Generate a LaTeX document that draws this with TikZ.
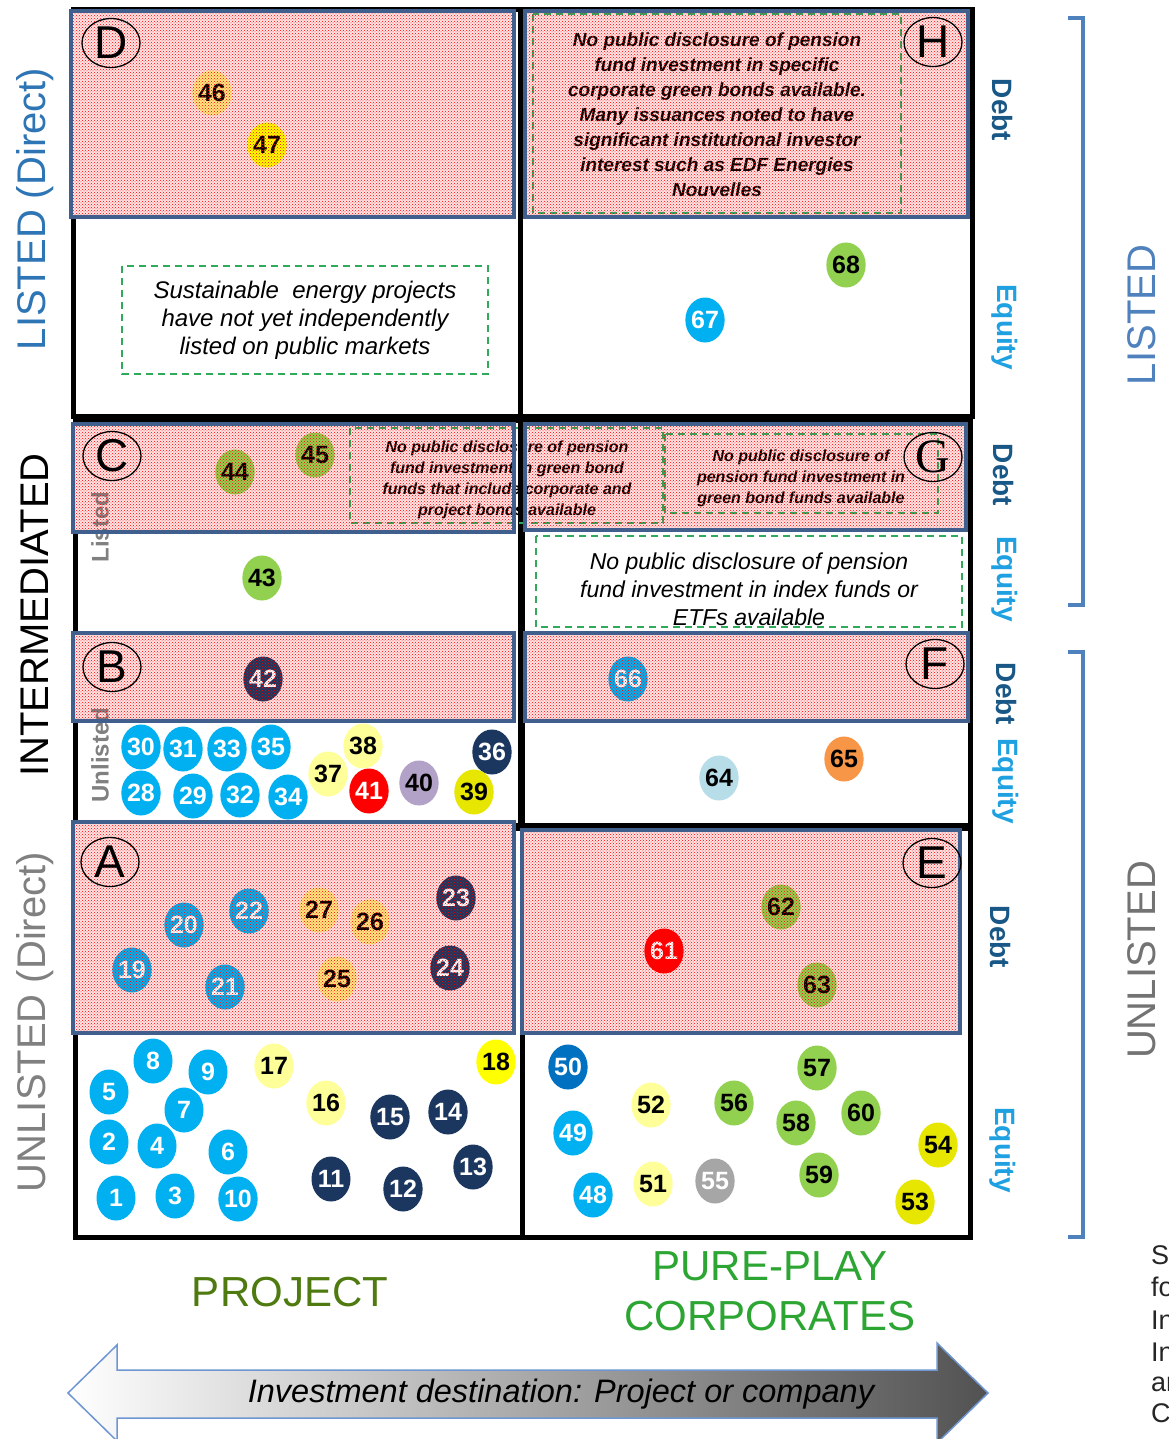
\documentclass[tikz,border=0pt]{standalone}
\usepackage{fontspec}
\setmainfont{Liberation Sans}
\newfontfamily\tagserif{Liberation Serif}
\usetikzlibrary{shapes.geometric,patterns}

\definecolor{cyanb}{RGB}{0,176,240}
\definecolor{navyb}{RGB}{28,55,95}
\definecolor{paley}{RGB}{255,255,153}
\definecolor{fadey}{RGB}{255,232,130}
\definecolor{yelb}{RGB}{255,255,0}
\definecolor{darky}{RGB}{230,230,0}
\definecolor{greenb}{RGB}{146,208,80}
\definecolor{redb}{RGB}{255,0,0}
\definecolor{purpb}{RGB}{179,162,199}
\definecolor{ltblueb}{RGB}{183,221,232}
\definecolor{orangeb}{RGB}{247,150,70}
\definecolor{greyb}{RGB}{166,166,166}
\definecolor{blueb}{RGB}{0,112,192}
\definecolor{frameblue}{RGB}{65,95,140}
\definecolor{debtpink}{RGB}{255,228,228}
\definecolor{notegreen}{RGB}{46,170,90}
\definecolor{listblue}{RGB}{46,117,182}
\definecolor{debtlbl}{RGB}{25,88,134}
\definecolor{eqlbl}{RGB}{30,160,225}
\definecolor{brackblue}{RGB}{79,129,189}
\definecolor{projgreen}{RGB}{78,122,16}
\definecolor{corpgreen}{RGB}{44,165,50}
\definecolor{arrowedge}{RGB}{110,150,210}

\newcommand\bub[5]{\node[bubble,fill=#4,text=#5] (n#3) at (#1,#2) {#3};}

\begin{document}
\begin{tikzpicture}[x=1pt,y=-1pt,
  cell/.style={draw=black,line width=5pt,fill=white},
  debtarea/.style={draw=frameblue,line width=4pt},
  dots/.style={pattern=crosshatch dots,pattern color=red},
  bubble/.style={ellipse,minimum width=39pt,minimum height=45pt,inner sep=0pt,
    font=\fontsize{25}{25}\selectfont\bfseries},
  tag/.style={ellipse,draw=black,line width=1.3pt,minimum width=58pt,minimum height=49pt,
    inner sep=0pt,font=\fontsize{46}{46}\selectfont},
  note/.style={draw=notegreen,line width=1.8pt,dash pattern=on 7pt off 5pt},
  debttext/.style={align=center,font=\fontsize{16}{21}\selectfont\bfseries\itshape},
  sidelbl/.style={rotate=90,font=\fontsize{40}{40}\selectfont},
  sublbl/.style={rotate=90,text=black!50,font=\fontsize{24}{24}\selectfont\bfseries},
  debtlabel/.style={rotate=-90,text=debtlbl,font=\fontsize{28}{28}\selectfont\bfseries},
  eqlabel/.style={rotate=-90,text=eqlbl,font=\fontsize{28}{28}\selectfont\bfseries},
  brack/.style={draw=brackblue,line width=4.5pt},
  headline/.style={font=\fontsize{42}{50}\selectfont,align=center}]

\useasboundingbox[fill=white] (0,0) rectangle (1168,1439);

% outer cells of the matrix
\draw[cell] (73,10) rectangle (520,416);
\draw[cell] (520,10) rectangle (972,416);
\draw[cell] (75,420) rectangle (520,825);
\draw[cell] (522,420) rectangle (970,825);
\draw[cell] (75,828) rectangle (522,1237);
\draw[cell] (522,828) rectangle (970,1237);

% debt bands: base tint
\fill[debtpink] (71,11) rectangle (514,217);
\fill[debtpink] (525,11) rectangle (968,217);
\fill[debtpink] (73,424) rectangle (514,532);
\fill[debtpink] (525,424) rectangle (966,530);
\fill[debtpink] (73,633) rectangle (514,721);
\fill[debtpink] (525,633) rectangle (968,721);
\fill[debtpink] (73,822) rectangle (514,1033);
\fill[debtpink] (522,830) rectangle (960,1033);

% small row labels inside the intermediated band
\node[sublbl] (lbllisted) at (100,527) {Listed};
\node[sublbl] (lblunlisted) at (100,755) {Unlisted};

% notes lying in the debt bands
\draw[note] (533,14) rectangle (901,213);
\node[align=center,font=\fontsize{19}{25}\selectfont\bfseries\itshape] (tH) at (717,115)
  {No public disclosure of pension\\fund investment in specific\\corporate green bonds available.\\Many issuances noted to have\\significant institutional investor\\interest such as EDF Energies\\Nouvelles};
\draw[note] (350,428) rectangle (663,523);
\node[debttext] (tC) at (507,480)
  {No public disclosure of pension\\fund investment in green bond\\funds that include corporate and\\project bonds available};
\draw[note] (665,434) rectangle (938,513);
\node[debttext] (tG) at (801,478)
  {No public disclosure of\\pension fund investment in\\green bond funds available};

% debt positions
\bub{212}{93}{46}{fadey}{black}
\bub{267}{145}{47}{yelb}{black}
\bub{235}{472}{44}{greenb}{black}
\bub{315}{455}{45}{greenb}{black}
\bub{263}{679}{42}{navyb}{white}
\bub{628}{679}{66}{cyanb}{white}
\bub{456}{898}{23}{navyb}{white}
\bub{184}{925}{20}{cyanb}{white}
\bub{249}{911}{22}{cyanb}{white}
\bub{319}{910}{27}{fadey}{black}
\bub{370}{922}{26}{fadey}{black}
\bub{132}{970}{19}{cyanb}{white}
\bub{225}{987}{21}{cyanb}{white}
\bub{337}{979}{25}{fadey}{black}
\bub{450}{968}{24}{navyb}{white}
\bub{781}{907}{62}{greenb}{black}
\bub{664}{951}{61}{redb}{white}
\bub{817}{985}{63}{greenb}{black}

% dotted screen over the debt bands
\fill[dots] (71,11) rectangle (514,217);
\fill[dots] (525,11) rectangle (968,217);
\fill[dots] (73,424) rectangle (514,532);
\fill[dots] (525,424) rectangle (966,530);
\fill[dots] (73,633) rectangle (514,721);
\fill[dots] (525,633) rectangle (968,721);
\fill[dots] (73,822) rectangle (514,1033);
\fill[dots] (522,830) rectangle (960,1033);

% debt band frames
\draw[debtarea] (71,11) rectangle (514,217);
\draw[debtarea] (525,11) rectangle (968,217);
\draw[debtarea] (73,424) rectangle (514,532);
\draw[debtarea] (525,424) rectangle (966,530);
\draw[debtarea] (73,633) rectangle (514,721);
\draw[debtarea] (525,633) rectangle (968,721);
\draw[debtarea] (73,822) rectangle (514,1033);
\draw[debtarea] (522,830) rectangle (960,1033);

% quadrant tags
\node[tag] (tagD) at (111,43) {D};
\node[tag] (tagH) at (933,42) {H};
\node[tag] (tagC) at (112,456) {C};
\node[tag,font=\fontsize{48}{48}\selectfont\tagserif] (tagG) at (933,457) {G};
\node[tag] (tagB) at (112,667) {B};
\node[tag] (tagF) at (935,664) {F};
\node[tag] (tagA) at (110,862) {A};
\node[tag] (tagE) at (932,863) {E};

% equity notes
\draw[note] (122,266) rectangle (488,374);
\node[align=center,font=\fontsize{24}{28}\selectfont\itshape] (tD) at (305,320)
  {Sustainable\ \ energy projects\\have not yet independently\\listed on public markets};
\draw[note] (536,536) rectangle (962,627);
\node[align=center,font=\fontsize{23}{28}\selectfont\itshape] (tGe) at (749,589)
  {No public disclosure of pension\\fund investment in index funds or\\ETFs available};

% equity positions
\bub{705}{320}{67}{cyanb}{white}
\bub{846}{265}{68}{greenb}{black}
\bub{262}{578}{43}{greenb}{black}
\bub{141}{747}{30}{cyanb}{white}
\bub{183}{749}{31}{cyanb}{white}
\bub{227}{749}{33}{cyanb}{white}
\bub{271}{747}{35}{cyanb}{white}
\bub{141}{793}{28}{cyanb}{white}
\bub{193}{796}{29}{cyanb}{white}
\bub{240}{795}{32}{cyanb}{white}
\bub{288}{797}{34}{cyanb}{white}
\bub{328}{774}{37}{paley}{black}
\bub{363}{746}{38}{paley}{black}
\bub{369}{791}{41}{redb}{white}
\bub{419}{783}{40}{purpb}{black}
\bub{492}{752}{36}{navyb}{white}
\bub{474}{792}{39}{darky}{black}
\bub{719}{778}{64}{ltblueb}{black}
\bub{844}{759}{65}{orangeb}{black}

\bub{153}{1061}{8}{cyanb}{white}
\bub{208}{1072}{9}{cyanb}{white}
\bub{274}{1066}{17}{paley}{black}
\bub{496}{1062}{18}{yelb}{black}
\bub{109}{1092}{5}{cyanb}{white}
\bub{184}{1110}{7}{cyanb}{white}
\bub{326}{1103}{16}{paley}{black}
\bub{390}{1117}{15}{navyb}{white}
\bub{448}{1112}{14}{navyb}{white}
\bub{109}{1142}{2}{cyanb}{white}
\bub{157}{1146}{4}{cyanb}{white}
\bub{228}{1152}{6}{cyanb}{white}
\bub{473}{1167}{13}{navyb}{white}
\bub{331}{1179}{11}{navyb}{white}
\bub{403}{1189}{12}{navyb}{white}
\bub{116}{1198}{1}{cyanb}{white}
\bub{175}{1196}{3}{cyanb}{white}
\bub{238}{1199}{10}{cyanb}{white}

\bub{568}{1067}{50}{blueb}{white}
\bub{817}{1068}{57}{greenb}{black}
\bub{651}{1105}{52}{paley}{black}
\bub{734}{1103}{56}{greenb}{black}
\bub{796}{1123}{58}{greenb}{black}
\bub{861}{1113}{60}{greenb}{black}
\bub{573}{1133}{49}{cyanb}{white}
\bub{938}{1145}{54}{darky}{black}
\bub{653}{1184}{51}{paley}{black}
\bub{715}{1181}{55}{greyb}{white}
\bub{819}{1175}{59}{greenb}{black}
\bub{593}{1195}{48}{cyanb}{white}
\bub{915}{1202}{53}{darky}{black}

% left-hand axis
\node[sidelbl,text=listblue] (axL) at (35,209) {LISTED (Direct)};
\node[sidelbl,text=black] (axI) at (35,615) {INTERMEDIATED};
\node[sidelbl,text=black!50] (axU) at (35,1022) {UNLISTED (Direct)};

% right-hand instrument labels
\node[debtlabel] (d1) at (1002,110) {Debt};
\node[eqlabel] (e1) at (1005,327) {Equity};
\node[debtlabel] (d2) at (1003,475) {Debt};
\node[eqlabel] (e2) at (1005,579) {Equity};
\node[debtlabel] (d3) at (1006,694) {Debt};
\node[eqlabel] (e3) at (1006,781) {Equity};
\node[debtlabel] (d4) at (1000,937) {Debt};
\node[eqlabel] (e4) at (1003,1150) {Equity};

% brackets and market labels
\draw[brack] (1068,18) -- (1083,18) -- (1083,605) -- (1068,605);
\draw[brack] (1068,652) -- (1083,652) -- (1083,1237) -- (1068,1237);
\node[sidelbl,text=brackblue] (mL) at (1142,315) {LISTED};
\node[sidelbl,text=black!55] (mU) at (1142,960) {UNLISTED};

% column headings
\node[headline,text=projgreen] (hP) at (290,1292) {PROJECT};
\node[headline,text=corpgreen] (hC) at (770,1291) {PURE-PLAY\\CORPORATES};

% destination arrow
\path[draw=arrowedge,line width=1.5pt,left color=white,middle color=black!16,right color=black!68]
  (68,1393) -- (117,1345) -- (117,1370) -- (937,1370) -- (937,1343) -- (988,1393)
  -- (937,1443) -- (937,1418) -- (117,1418) -- (117,1441) -- cycle;
\node[font=\fontsize{32.5}{32.5}\selectfont\itshape] (tArrow) at (561,1394)
  {Investment destination: Project or company};

% adjoining page text, running off the right edge
\begin{scope}[font=\fontsize{27}{27}\selectfont,text=black!85]
\node[anchor=west,inner sep=0pt] (r1) at (1151,1255) {S};
\node[anchor=west,inner sep=0pt] (r2) at (1151,1287) {fo};
\node[anchor=west,inner sep=0pt] (r3) at (1151,1320) {In};
\node[anchor=west,inner sep=0pt] (r4) at (1151,1352) {In};
\node[anchor=west,inner sep=0pt] (r5) at (1151,1384) {an};
\node[anchor=west,inner sep=0pt] (r6) at (1151,1413) {C};
\end{scope}
\end{tikzpicture}
\end{document}
